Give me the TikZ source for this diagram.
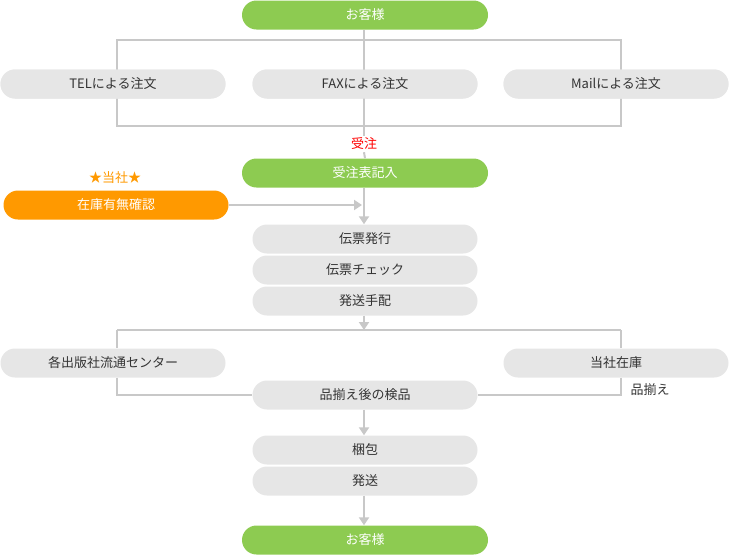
\documentclass[tikz,border=0pt]{standalone}
\usepackage{fontspec}
\setmainfont{Noto Sans CJK JP}
\usetikzlibrary{arrows.meta}
\definecolor{gr}{HTML}{8DCB51}
\definecolor{og}{HTML}{FF9900}
\definecolor{bx}{HTML}{E6E6E6}
\definecolor{ln}{HTML}{C8C8C8}
\definecolor{tx}{HTML}{333333}
\tikzset{
 base/.style={rounded corners=14.5pt, minimum height=29pt, inner sep=0pt, font=\fontsize{13}{13}\selectfont},
 green/.style={base, fill=gr, text=white, minimum width=246pt},
 orange/.style={base, fill=og, text=white, minimum width=225pt},
 grey/.style={base, fill=bx, text=tx, minimum width=225pt},
 conn/.style={draw=ln, line width=2pt},
 arr/.style={conn, -{Triangle[width=10pt,length=8pt]}},
}
\begin{document}
\begin{tikzpicture}[x=1pt,y=-1pt]
\useasboundingbox (0,0) rectangle (730,555);
% top frame
\draw[conn] (117,40) rectangle (621,126);
\coordinate (c1) at (364,40);
\coordinate (c2) at (364,330);
\coordinate (l2) at (117,330);
\coordinate (r2) at (621,330);
\node[green] (top) at (365,15) {お客様};
\node[grey] (tel) at (113,84) {TELによる注文};
\node[grey] (fax) at (365,84) {FAXによる注文};
\node[grey] (mail) at (616,84) {Mailによる注文};
\node[font=\fontsize{13}{13}\selectfont, text=red, fill=white, inner sep=2pt] (ju) at (364,144) {受注};
\node[green] (jh) at (365,173) {受注表記入};
\node[font=\fontsize{13}{13}\selectfont, text=og] (star) at (115,178) {★当社★};
\node[orange] (zk) at (116,205) {在庫有無確認};
\node[grey] (d1) at (365,239) {伝票発行};
\node[grey] (d2) at (365,270) {伝票チェック};
\node[grey] (d3) at (365,301) {発送手配};
\node[grey] (cc) at (113,363) {各出版社流通センター};
\node[grey] (tz) at (616,363) {当社在庫};
\node[grey] (kp) at (365,395) {品揃え後の検品};
\node[font=\fontsize{13}{13}\selectfont, text=tx] (sr) at (650,390) {品揃え};
\node[grey] (kb) at (365,450) {梱包};
\node[grey] (hs) at (365,481) {発送};
\node[green] (bot) at (365,540) {お客様};
\begin{scope}[on background layer/.style={}]
\end{scope}
% connectors (drawn below nodes via order)
\begin{pgfinterruptboundingbox}\end{pgfinterruptboundingbox}
\draw[conn] (top.south -| c1) -- (ju.north);
\draw[conn] (ju.south) -- (jh.north);
\draw[arr] (jh.south -| c1) -- (d1.north -| c1);
\draw[arr] (zk.east) -- (362,205);
\draw[arr] (d3.south -| c1) -- (c2);
\draw[conn] (l2) -- (r2);
\draw[conn] (l2) -- (cc.north -| l2);
\draw[conn] (r2) -- (tz.north -| r2);
\draw[conn] (cc.south -| l2) |- (kp.west);
\draw[conn] (tz.south -| r2) |- (kp.east);
\draw[arr] (kp.south -| c1) -- (kb.north -| c1);
\draw[arr] (hs.south -| c1) -- (bot.north -| c1);
% redraw frame-covered nodes on top
\node[grey] at (113,84) {TELによる注文};
\node[grey] at (365,84) {FAXによる注文};
\node[grey] at (616,84) {Mailによる注文};
\end{tikzpicture}
\end{document}
